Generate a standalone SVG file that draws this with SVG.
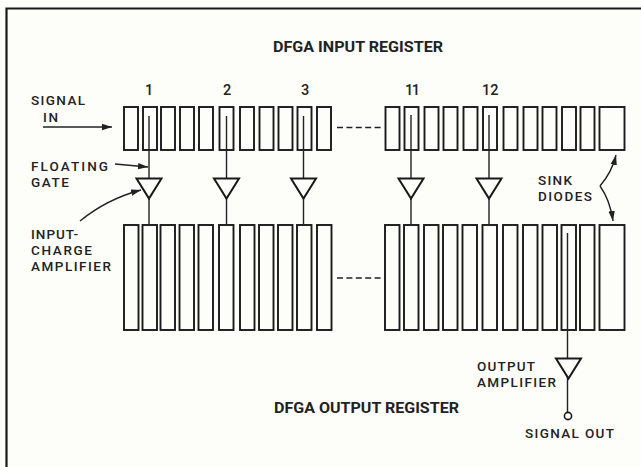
<svg xmlns="http://www.w3.org/2000/svg" width="641" height="467" viewBox="0 0 641 467">
<style>
.c{fill:#fdfdfa;stroke:#1a1a1a;stroke-width:1.9}
.w{fill:none;stroke:#222;stroke-width:1.4}
.d{fill:none;stroke:#222;stroke-width:1.4;stroke-dasharray:6 3.4}
.a{fill:#fdfdfa;stroke:#1a1a1a;stroke-width:2;stroke-linejoin:miter}
text{font-family:"Roboto","Liberation Sans",sans-serif;font-size:13.5px;fill:#222;font-weight:500}
.t{font-weight:700;font-size:14.5px}
.n{font-size:14.5px}
</style>
<defs>
<marker id="ah" markerUnits="userSpaceOnUse" markerWidth="12" markerHeight="8" refX="10" refY="4" orient="auto"><path d="M0 0.8L10 4L0 7.2Z" fill="#222"/></marker>
<rect id="s1" width="14" height="43" class="c"/>
<rect id="s2" width="14.5" height="105" class="c"/>
<path id="amp" d="M-12.5 0H12.5L0 20Z" class="a"/>
</defs>
<rect width="641" height="467" fill="#fdfdfa"/>
<path d="M6.500 467V8.500H641" fill="none" stroke="#1a1a1a" stroke-width="2.200"/>
<g id="input-register">
<use href="#s1" x="124" y="107"/><use href="#s1" x="143" y="107"/><use href="#s1" x="161" y="107"/><use href="#s1" x="180" y="107"/><use href="#s1" x="199" y="107"/><use href="#s1" x="219.500" y="107"/><use href="#s1" x="240" y="107"/><use href="#s1" x="259.500" y="107"/><use href="#s1" x="278.500" y="107"/><use href="#s1" x="297.500" y="107"/><use href="#s1" x="317" y="107"/>
<use href="#s1" x="385.500" y="107"/><use href="#s1" x="404.500" y="107"/><use href="#s1" x="424.500" y="107"/><use href="#s1" x="443.500" y="107"/><use href="#s1" x="463.500" y="107"/><use href="#s1" x="483" y="107"/><use href="#s1" x="503.500" y="107"/><use href="#s1" x="523.500" y="107"/><use href="#s1" x="542.500" y="107"/><use href="#s1" x="562" y="107"/><use href="#s1" x="580.500" y="107"/>
<rect x="599.500" y="107" width="25" height="43" class="c"/>
</g>
<g id="output-register">
<use href="#s2" x="124" y="225"/><use href="#s2" x="142.500" y="225"/><use href="#s2" x="160.500" y="225"/><use href="#s2" x="179.500" y="225"/><use href="#s2" x="198.500" y="225"/><use href="#s2" x="219" y="225"/><use href="#s2" x="240" y="225"/><use href="#s2" x="259" y="225"/><use href="#s2" x="278" y="225"/><use href="#s2" x="297" y="225"/><use href="#s2" x="317" y="225"/>
<use href="#s2" x="385" y="225"/><use href="#s2" x="404" y="225"/><use href="#s2" x="424" y="225"/><use href="#s2" x="443" y="225"/><use href="#s2" x="462.500" y="225"/><use href="#s2" x="482.500" y="225"/><use href="#s2" x="503" y="225"/><use href="#s2" x="523" y="225"/><use href="#s2" x="542.500" y="225"/><use href="#s2" x="561.500" y="225"/><use href="#s2" x="580" y="225"/>
<rect x="599.500" y="225" width="25" height="105" class="c"/>
</g>
<g id="connectors">
<path class="w" d="M149 116V225M226.500 116V225M303.500 116V225M411 115V225M489 115V225M567.500 233V412"/>
<path class="d" d="M337 127.500H384M337 278H383"/>
<path class="w" d="M43 127H112" marker-end="url(#ah)"/>
<path class="w" d="M115 164L148 167" marker-end="url(#ah)"/>
<path class="w" d="M80 221Q107 199 141 190" marker-end="url(#ah)"/>
<path class="w" d="M600 186Q612 172 616 155" marker-end="url(#ah)"/>
<path class="w" d="M600 186Q610 200 613 221" marker-end="url(#ah)"/>
</g>
<g id="amp-1"><use href="#amp" x="149" y="178.500"/></g>
<g id="amp-2"><use href="#amp" x="226.500" y="178.500"/></g>
<g id="amp-3"><use href="#amp" x="303.500" y="178.500"/></g>
<g id="amp-11"><use href="#amp" x="411" y="178.500"/></g>
<g id="amp-12"><use href="#amp" x="489" y="178.500"/></g>
<g id="amp-out"><use href="#amp" x="568.500" y="358.500"/></g>
<g id="signal-out-terminal"><circle cx="568" cy="416" r="3.600" fill="#fdfdfa" stroke="#1a1a1a" stroke-width="1.600"/></g>
<g id="labels">
<text class="t" x="273" y="52" textLength="170" lengthAdjust="spacingAndGlyphs">DFGA INPUT REGISTER</text>
<text class="t" x="274" y="413" textLength="185" lengthAdjust="spacingAndGlyphs">DFGA OUTPUT REGISTER</text>
<text class="n" x="145" y="95">1</text><text class="n" x="223" y="95">2</text><text class="n" x="301" y="95">3</text><text class="n" x="405" y="95" textLength="15">11</text><text class="n" x="482" y="95">12</text>
<text x="31" y="105" textLength="54">SIGNAL</text>
<text x="43" y="121.500" textLength="15">IN</text>
<text x="31" y="170.500" textLength="77">FLOATING</text>
<text x="31" y="186.500" textLength="38">GATE</text>
<text x="31" y="239" textLength="47">INPUT-</text>
<text x="31" y="254.500" textLength="61">CHARGE</text>
<text x="31" y="270.500" textLength="80">AMPLIFIER</text>
<text x="538" y="185" textLength="34">SINK</text>
<text x="538" y="200.500" textLength="54">DIODES</text>
<text x="477" y="370.500" textLength="58">OUTPUT</text>
<text x="477" y="386.500" textLength="79">AMPLIFIER</text>
<text x="525" y="438" textLength="89">SIGNAL OUT</text>
</g>
</svg>
